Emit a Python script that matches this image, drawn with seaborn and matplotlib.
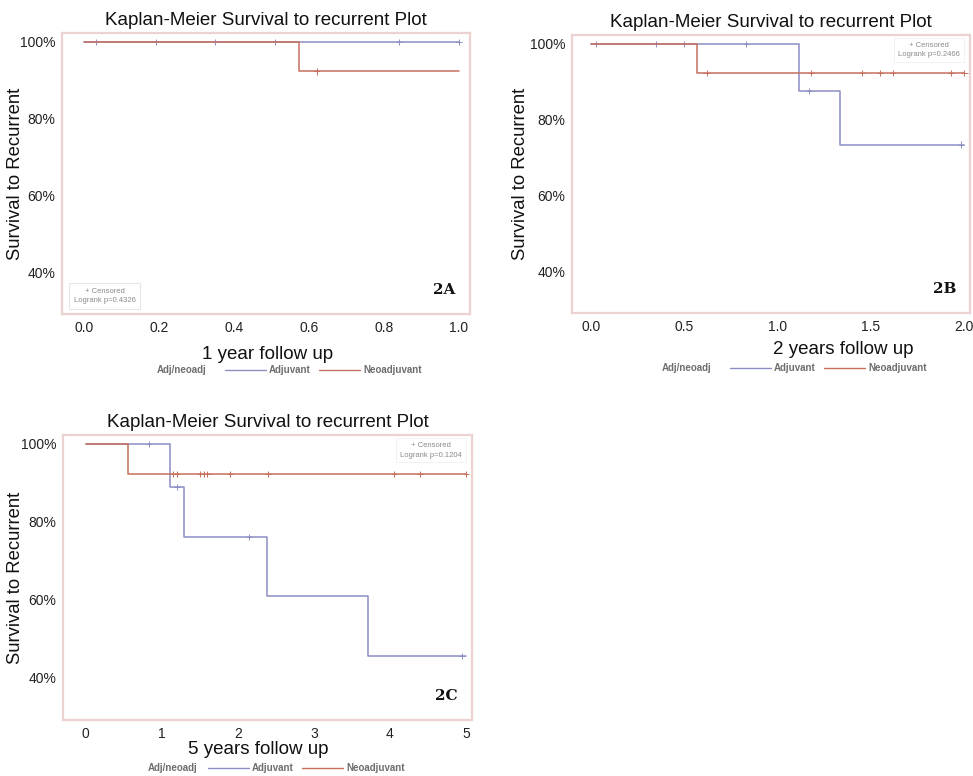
import matplotlib
matplotlib.use("Agg")
import matplotlib.pyplot as plt
import seaborn as sns
import pandas as pd
from matplotlib.ticker import PercentFormatter
from matplotlib.lines import Line2D

sns.set_theme(style="white")
plt.rcParams["font.family"] = ["Liberation Sans", "DejaVu Sans"]

GROUPS = ["Adjuvant", "Neoadjuvant"]
COLORS = {"Adjuvant": "#8c8ec4", "Neoadjuvant": "#c8705e"}

# --- 1 year follow-up ---
a_adj_time = [0.0, 1.0]
a_adj_surv = [1.0, 1.0]
a_neo_time = [0.0, 0.572, 1.0]
a_neo_surv = [1.0, 0.923, 0.923]
a_cens_time = [0.03, 0.19, 0.35, 0.51, 0.84, 1.0, 0.62]
a_cens_surv = [1.0, 1.0, 1.0, 1.0, 1.0, 1.0, 0.923]
a_cens_group = ["Adjuvant"] * 6 + ["Neoadjuvant"]

# --- 2 years follow-up ---
b_adj_time = [0.0, 1.115, 1.335, 2.0]
b_adj_surv = [1.0, 0.875, 0.735, 0.735]
b_neo_time = [0.0, 0.57, 2.0]
b_neo_surv = [1.0, 0.923, 0.923]
b_cens_time = [0.03, 0.35, 0.5, 0.83, 1.17, 1.98, 0.62, 1.18, 1.45, 1.55, 1.62, 1.93, 2.0]
b_cens_surv = [1.0, 1.0, 1.0, 1.0, 0.875, 0.735, 0.923, 0.923, 0.923, 0.923, 0.923, 0.923, 0.923]
b_cens_group = ["Adjuvant"] * 6 + ["Neoadjuvant"] * 7

# --- 5 years follow-up ---
c_adj_time = [0.0, 1.11, 1.29, 2.38, 3.71, 5.0]
c_adj_surv = [1.0, 0.889, 0.762, 0.609, 0.457, 0.457]
c_neo_time = [0.0, 0.55, 5.0]
c_neo_surv = [1.0, 0.923, 0.923]
c_cens_time = [0.83, 1.2, 2.15, 4.95, 1.15, 1.2, 1.5, 1.55, 1.6, 1.9, 2.4, 4.05, 4.4, 5.0]
c_cens_surv = [1.0, 0.889, 0.762, 0.457, 0.923, 0.923, 0.923, 0.923, 0.923, 0.923, 0.923, 0.923, 0.923, 0.923]
c_cens_group = ["Adjuvant"] * 4 + ["Neoadjuvant"] * 10

panels = [
    dict(adj=(a_adj_time, a_adj_surv), neo=(a_neo_time, a_neo_surv),
         cens=(a_cens_time, a_cens_surv, a_cens_group),
         xlabel="1 year follow up", xticks=[0.0, 0.2, 0.4, 0.6, 0.8, 1.0], xfmt="{:.1f}",
         xlim=(-0.06, 1.03), tag="2A", pval="Logrank p=0.4326", box="lower left"),
    dict(adj=(b_adj_time, b_adj_surv), neo=(b_neo_time, b_neo_surv),
         cens=(b_cens_time, b_cens_surv, b_cens_group),
         xlabel="2 years follow up", xticks=[0.0, 0.5, 1.0, 1.5, 2.0], xfmt="{:.1f}",
         xlim=(-0.1, 2.03), tag="2B", pval="Logrank p=0.2466", box="upper right"),
    dict(adj=(c_adj_time, c_adj_surv), neo=(c_neo_time, c_neo_surv),
         cens=(c_cens_time, c_cens_surv, c_cens_group),
         xlabel="5 years follow up", xticks=[0, 1, 2, 3, 4, 5], xfmt="{:d}",
         xlim=(-0.3, 5.08), tag="2C", pval="Logrank p=0.1204", box="upper right"),
]

W, H = 973, 776
fig = plt.figure(figsize=(W / 100, H / 100), dpi=100)

# layout in pixels
rects = [(62, 33, 470, 314), (572, 35, 970, 313), (63, 435, 472, 720)]  # l, t, r, b
ylabel_x = [24, 529, 24]
xlabel_y = [355, 350, 750]
xlabel_x = [268, 843, 258]
legend_y = [370, 368, 768]
legend_title_x = [157, 662, 148]
legend_items_x = [225, 730, 208]

frame_col = "#ecd2d0"
legend_col = "#6e6e6e"

for i, p in enumerate(panels):
    l, t, r, b = rects[i]
    ax = fig.add_axes([l / W, 1 - b / H, (r - l) / W, (b - t) / H])
    curves = pd.DataFrame({
        "time": list(p["adj"][0]) + list(p["neo"][0]),
        "surv": list(p["adj"][1]) + list(p["neo"][1]),
        "group": ["Adjuvant"] * len(p["adj"][0]) + ["Neoadjuvant"] * len(p["neo"][0]),
    })
    cens = pd.DataFrame({"time": p["cens"][0], "surv": p["cens"][1], "group": p["cens"][2]})
    sns.lineplot(data=curves, x="time", y="surv", hue="group", hue_order=GROUPS,
                 palette=COLORS, drawstyle="steps-post", estimator=None,
                 linewidth=1.1, legend=False, ax=ax)
    sns.scatterplot(data=cens, x="time", y="surv", hue="group", hue_order=GROUPS,
                    palette=COLORS, marker="+", s=20, linewidth=0.7,
                    legend=False, ax=ax)
    ax.set_xlim(*p["xlim"])
    ax.set_ylim(0.292, 1.023)
    ax.set_yticks([0.4, 0.6, 0.8, 1.0])
    ax.yaxis.set_major_formatter(PercentFormatter(1.0, decimals=0))
    ax.set_xticks(p["xticks"])
    ax.set_xticklabels([p["xfmt"].format(v) for v in p["xticks"]])
    ax.tick_params(axis="both", length=0, labelsize=10, colors="#222222", pad=5)
    for s in ax.spines.values():
        s.set_color(frame_col)
        s.set_linewidth(1.6)
    ax.set_xlabel("")
    ax.set_ylabel("Survival to Recurrent", fontsize=13.3, color="#111111")
    ax.yaxis.set_label_coords((ylabel_x[i] - l) / (r - l), 0.5)
    ax.set_title("Kaplan-Meier Survival to recurrent Plot", fontsize=13.5,
                 color="#111111", pad=6)
    fig.text(xlabel_x[i] / W, 1 - xlabel_y[i] / H, p["xlabel"], ha="center",
             va="center", fontsize=13.5, color="#111111")

    # censor / log-rank note
    txt = "+ Censored\n" + p["pval"]
    if p["box"] == "lower left":
        ax.text(0.105, 0.035, txt, transform=ax.transAxes, ha="center", va="bottom",
                fontsize=5.5, color="#8a8a8a", linespacing=1.5, multialignment="center",
                bbox=dict(boxstyle="square,pad=0.6", fc="white", ec="#e6e6e6", lw=0.8))
    else:
        ax.text(0.975, 0.975, txt, transform=ax.transAxes, ha="right", va="top",
                fontsize=5.5, color="#8a8a8a", linespacing=1.5, multialignment="center",
                bbox=dict(boxstyle="square,pad=0.5", fc="white", ec="#f0f0f0", lw=0.6))
    ax.text(0.965, 0.06, p["tag"], transform=ax.transAxes, ha="right", va="bottom",
            fontsize=11, fontweight="bold", family="DejaVu Serif", color="#111111")

    # legend row under the x label: title, then the two strata
    fig.text(legend_title_x[i] / W, 1 - legend_y[i] / H, "Adj/neoadj", ha="left",
             va="center", fontsize=7, color=legend_col, fontweight="bold")
    handles = [Line2D([], [], color=COLORS[g], lw=1.0) for g in GROUPS]
    leg = fig.legend(handles, GROUPS, loc="center left",
                     bbox_to_anchor=(legend_items_x[i] / W, 1 - legend_y[i] / H),
                     ncol=2, frameon=False, fontsize=7, handlelength=4.2,
                     columnspacing=0.8, handletextpad=0.35, borderpad=0,
                     borderaxespad=0)
    for tx in leg.get_texts():
        tx.set_color(legend_col)
        tx.set_fontweight("bold")

fig.savefig("out.png", dpi=100, facecolor="white")
